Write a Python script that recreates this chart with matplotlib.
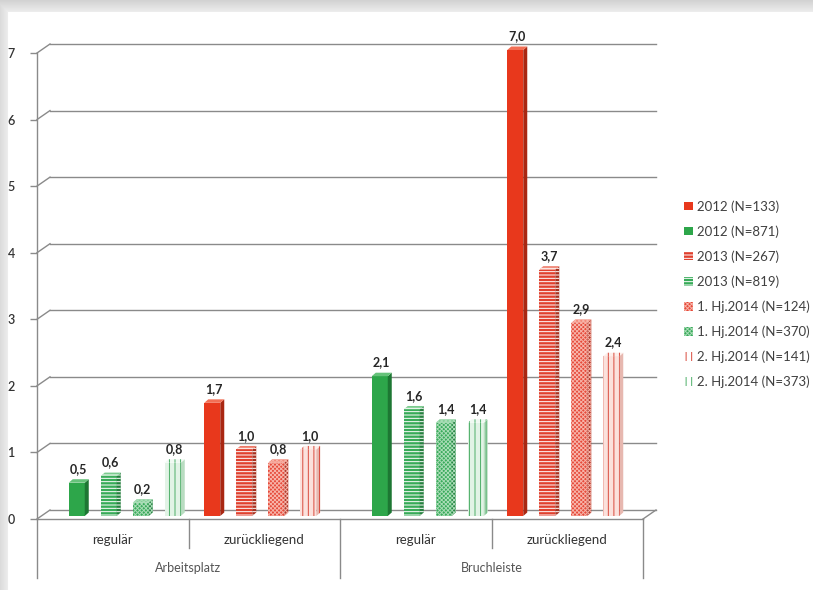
import numpy as np
import matplotlib
matplotlib.use('Agg')
import matplotlib.pyplot as plt
from matplotlib.patches import Polygon, Patch

plt.rcParams['font.family'] = ['Lato', 'DejaVu Sans']
plt.rcParams['hatch.linewidth'] = 0.7

nan = np.nan

# category axis: two levels
subgroups = ['regulär', 'zurückliegend', 'regulär', 'zurückliegend']
groups = ['Arbeitsplatz', 'Bruchleiste']

series = ['2012 (N=133)', '2012 (N=871)', '2013 (N=267)', '2013 (N=819)',
          '1. Hj.2014 (N=124)', '1. Hj.2014 (N=370)',
          '2. Hj.2014 (N=141)', '2. Hj.2014 (N=373)']

# rates per category (red = zurückliegend, green = regulär)
red_2012 = [nan, 1.7, nan, 7.0]
green_2012 = [0.5, nan, 2.1, nan]
red_2013 = [nan, 1.0, nan, 3.7]
green_2013 = [0.6, nan, 1.6, nan]
red_h1_2014 = [nan, 0.8, nan, 2.9]
green_h1_2014 = [0.2, nan, 1.4, nan]
red_h2_2014 = [nan, 1.0, nan, 2.4]
green_h2_2014 = [0.8, nan, 1.4, nan]

all_values = [red_2012, green_2012, red_2013, green_2013,
              red_h1_2014, green_h1_2014, red_h2_2014, green_h2_2014]

RED = '#e8381c'
GREEN = '#2da64a'

# (front face, side face, top face, hatch colour, hatch)
styles = [
    (RED, '#a92712', '#f26f55', RED, None),
    (GREEN, '#1d7733', '#66c27a', GREEN, None),
    ('#e0402e', '#a8301f', '#ee7a68', 'white', '-----'),
    ('#37ab58', '#25803e', '#7ccc8f', 'white', '-----'),
    ('#e64a3a', '#b0392b', '#f28a7a', '#f7b3a8', 'xxxxxxxx'),
    ('#3aab5c', '#2a8446', '#86d09a', '#a9dcb6', 'xxxxxxxx'),
    ('#fbe1dc', '#e7b8b0', '#fdeeea', '#d9493c', '|||'),
    ('#e2f3e6', '#b9dcc1', '#f0f9f2', '#4daf68', '|||'),
]

# pixel geometry of the plot box
DPI = 100
W_PX, H_PX = 813, 590
X0, X1 = 37, 643
Y0, Y7 = 519, 53
PX_X = (X1 - X0) / 4.0
PX_Y = (Y0 - Y7) / 7.0

fig = plt.figure(figsize=(W_PX / DPI, H_PX / DPI), dpi=DPI)

# grey frame with the white panel
bg = fig.add_axes([0, 0, 1, 1], zorder=-10)
yy, xx = np.mgrid[0:H_PX, 0:W_PX]
dist = np.maximum(12 - yy, 8 - xx).astype(float)
shade = np.where(dist > 0, 0.935 - 0.11 * np.clip(dist / 12.0, 0, 1), 1.0)
bg.imshow(np.dstack([shade] * 3), aspect='auto', interpolation='bilinear')
bg.axis('off')

ax = fig.add_axes([X0 / W_PX, (H_PX - Y0) / H_PX,
                   (X1 - X0) / W_PX, (Y0 - Y7) / H_PX])
ax.set_facecolor('none')
ax.set_xlim(-0.5, 3.5)
ax.set_ylim(0, 7)

line_c = '#8a8a8a'

# back wall gridlines with slanted connectors to the front axis
bdx, bdy = 13 / PX_X, 9 / PX_Y
for v in range(8):
    ax.plot([-0.5 + bdx, 3.5 + bdx], [v + bdy, v + bdy], color=line_c,
            lw=1.0, clip_on=False, zorder=1)
    ax.plot([-0.5, -0.5 + bdx], [v, v + bdy], color=line_c, lw=1.0,
            clip_on=False, zorder=1)
ax.plot([3.5, 3.5 + bdx], [0, bdy], color=line_c, lw=1.0, clip_on=False)

ax.set_yticks(range(8))
ax.set_xticks([])
ax.tick_params(axis='y', length=5, width=1.0, color=line_c, pad=11,
               labelsize=9, labelcolor='#333333')
for lab in ax.get_yticklabels():
    lab.set_fontweight('semibold')
for s in ['top', 'right']:
    ax.spines[s].set_visible(False)
for s in ['left', 'bottom']:
    ax.spines[s].set_color(line_c)
    ax.spines[s].set_linewidth(1.0)

# category dividers below the floor
xt = ax.get_xaxis_transform()
for xd, depth in [(-0.5, 59), (0.5, 29), (1.5, 59), (2.5, 29), (3.5, 59)]:
    ax.plot([xd, xd], [0, -depth / (Y0 - Y7)], transform=xt, color=line_c,
            lw=1.0, clip_on=False)
for i, lab in enumerate(subgroups):
    ax.text(i, -21 / (Y0 - Y7), lab, transform=xt, ha='center', va='center',
            fontsize=9.5, color='#333333')
for i, lab in enumerate(groups):
    ax.text(0.5 + 2 * i, -49 / (Y0 - Y7), lab, transform=xt, ha='center',
            va='center', fontsize=9, color='#555555')

# 3d bars
SLOT = 16 / PX_X
BW = 16 / PX_X
ddx, ddy = 4 / PX_X, 3.5 / PX_Y
sx, sy = 4 / PX_X, 3 / PX_Y

for i, vals in enumerate(all_values):
    face, side, top, hc, hatch = styles[i]
    for c, v in enumerate(vals):
        if np.isnan(v):
            continue
        xc = c + (i - 3.5) * SLOT + sx
        x0, x1 = xc - BW / 2, xc + BW / 2
        b, t = sy, v + sy
        polys = [
            ([(x0, b), (x1, b), (x1, t), (x0, t)], face),
            ([(x1, b), (x1 + ddx, b + ddy), (x1 + ddx, t + ddy), (x1, t)], side),
            ([(x0, t), (x1, t), (x1 + ddx, t + ddy), (x0 + ddx, t + ddy)], top),
        ]
        for pts, fc in polys:
            p = Polygon(pts, closed=True, facecolor=fc, edgecolor=hc,
                        hatch=hatch, linewidth=0, clip_on=False, zorder=3)
            ax.add_patch(p)
        ax.annotate(f'{v:.1f}'.replace('.', ','), xy=(xc + ddx / 2, t + ddy),
                    xytext=(0, 3), textcoords='offset points', ha='center',
                    va='bottom', fontsize=9, fontweight='bold',
                    color='#262626', annotation_clip=False, zorder=4)

handles = [Patch(facecolor=st[0] if st[4] != '|||' else 'white',
                 edgecolor=st[3], hatch=st[4], linewidth=0) for st in styles]
fig.legend(handles, series, loc='upper left',
           bbox_to_anchor=(684 / W_PX, 1 - 200 / H_PX), frameon=False,
           fontsize=9.5, handlelength=0.65, handleheight=0.65,
           handletextpad=0.35, labelspacing=0.95, borderpad=0,
           borderaxespad=0, labelcolor='#404040')

fig.savefig('out.png', dpi=DPI)
